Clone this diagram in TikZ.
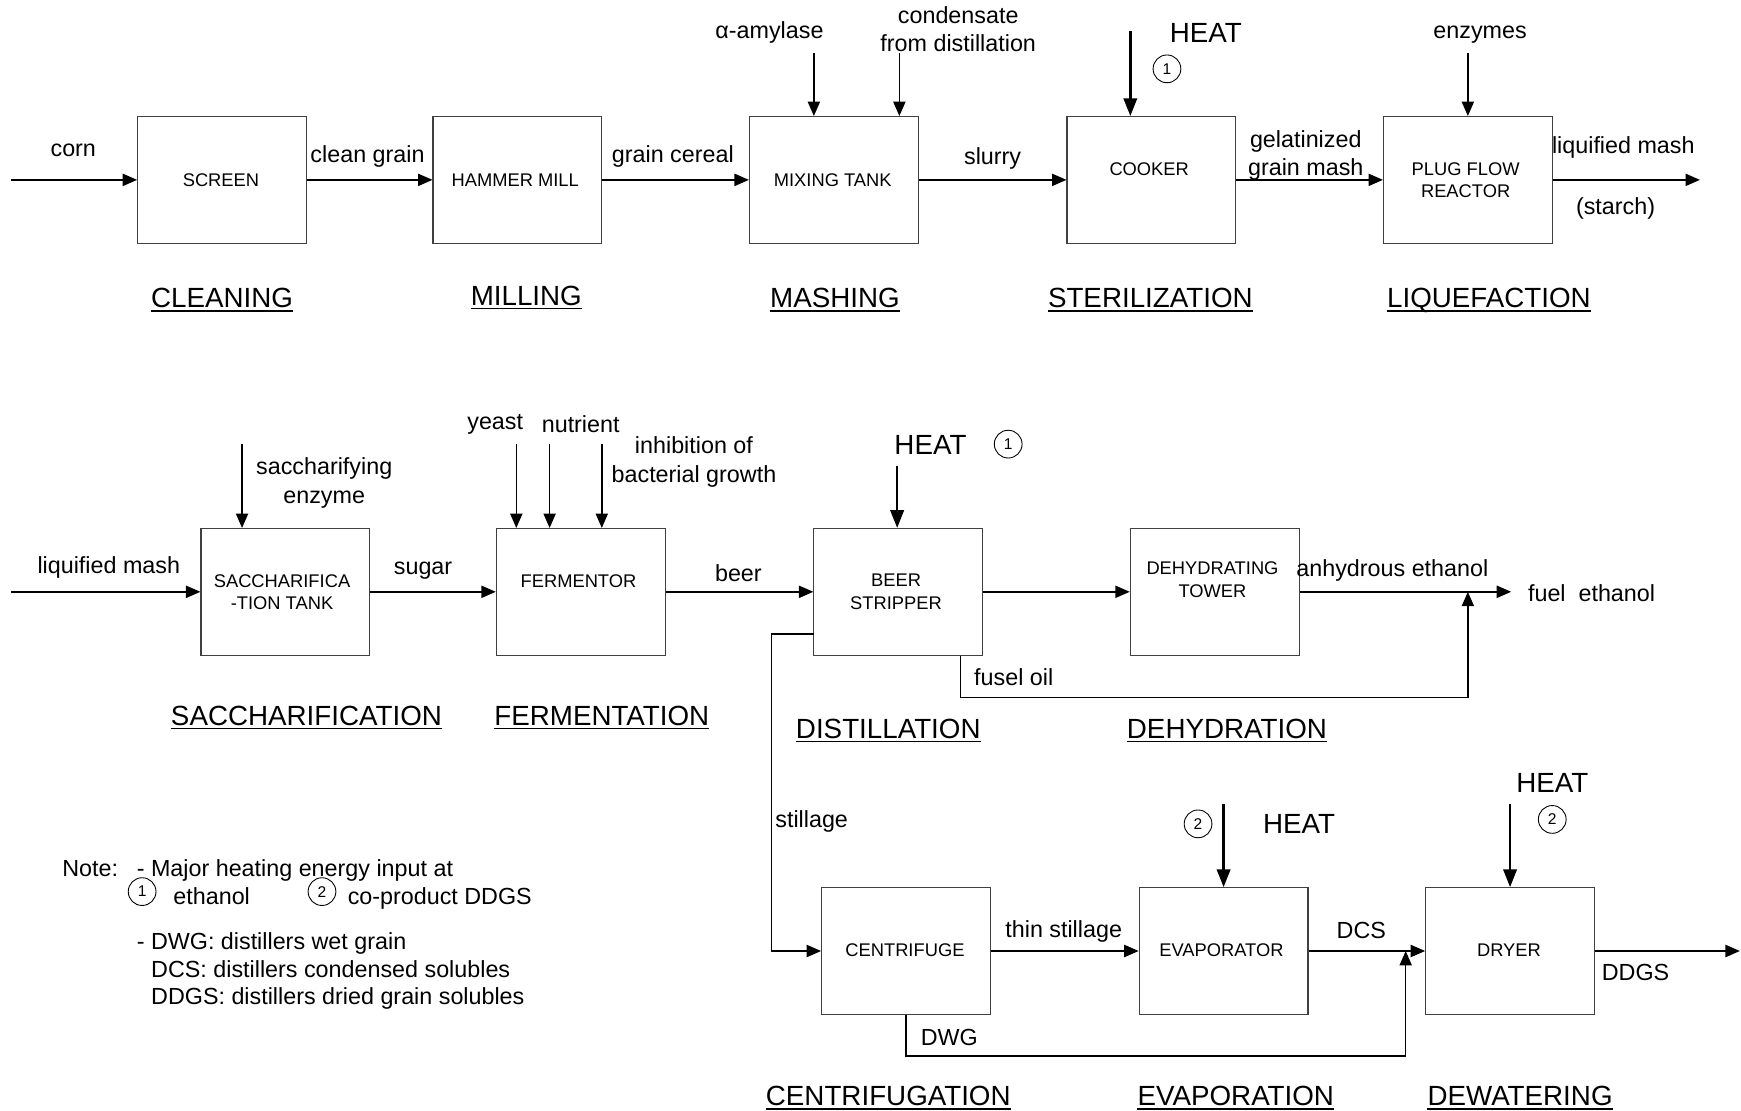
\documentclass[tikz,border=0pt]{standalone}
\usepackage{fontspec}
\setmainfont{Liberation Sans}
\usetikzlibrary{arrows.meta}
\begin{document}
\begin{tikzpicture}[x=1pt,y=-1pt,
  box/.style={draw=black!75, line width=1pt, minimum width=152pt, minimum height=114pt, inner sep=0pt},
  btxt/.style={font=\fontsize{16.5}{20}\selectfont, align=center, inner sep=0pt},
  lbl/.style={font=\fontsize{21}{25.5}\selectfont, align=center, inner sep=0pt},
  stage/.style={font=\fontsize{25}{30}\selectfont, inner sep=0pt, anchor=base},
  uln/.style={line width=1.4pt},
  heat/.style={font=\fontsize{25}{30}\selectfont, inner sep=0pt},
  num/.style={circle, draw, line width=0.8pt, minimum size=25pt, inner sep=0pt, font=\fontsize{14}{16}\selectfont},
  arr/.style={line width=1.3pt, -{Triangle[length=13pt,width=11pt]}},
  harr/.style={line width=2.4pt, -{Triangle[length=16pt,width=12pt]}},
  ln/.style={line width=1.3pt}]
\useasboundingbox (0,0) rectangle (1568,1000);

% ---------- row 1 boxes ----------
\node[box] (screen) at (200,162) {};
\node[box] (hammer) at (466,162) {};
\node[box] (mixing) at (751,162) {};
\node[box] (cooker) at (1037,162) {};
\node[box] (pfr) at (1322,162) {};
\node[btxt] (tscreen) at (199,162) {SCREEN};
\node[btxt] (thammer) at (464,162) {HAMMER MILL};
\node[btxt] (tmixing) at (750,162) {MIXING TANK};
\node[btxt] (tcooker) at (1035,152) {COOKER};
\node[btxt] (tpfr) at (1320,162) {PLUG FLOW\\REACTOR};

% row 1 flows
\coordinate (cornin) at (10,162);
\draw[arr] (cornin) -- (screen.west);
\node[lbl] (lcorn) at (66,135) {corn};
\draw[arr] (screen.east) -- (hammer.west);
\node[lbl] (lclean) at (331,141) {clean grain};
\draw[arr] (hammer.east) -- (mixing.west);
\node[lbl] (lcereal) at (606,141) {grain cereal};
\draw[arr] (mixing.east) -- (cooker.west);
\node[lbl] (lslurry) at (894,143) {slurry};
\draw[arr] (cooker.east) -- (pfr.west);
\node[lbl] (lgel) at (1176,140) {gelatinized\\grain mash};
\coordinate (pfrout) at (1531,162);
\draw[arr] (pfr.east) -- (pfrout);
\node[lbl] (lliq) at (1462,133) {liquified mash};
\node[lbl] (lstarch) at (1455,188) {(starch)};

\coordinate (amy) at (733,48);
\draw[arr] (amy) -- (amy |- mixing.north);
\node[lbl] (lamy) at (693,29) {α-amylase};
\coordinate (cond) at (810,48);
\draw[arr] (cond) -- (cond |- mixing.north);
\node[lbl] (lcond) at (863,26) {condensate\\from distillation};
\coordinate (heat1) at (1018,28);
\draw[harr] (heat1) -- (heat1 |- cooker.north);
\node[heat] (theat1) at (1086,30) {HEAT};
\node[num] (n1a) at (1051,62) {1};
\coordinate (enz) at (1322,48);
\draw[arr] (enz) -- (pfr.north);
\node[lbl] (lenz) at (1333,31) {enzymes};

\node[stage] (s1) at (200,277) {CLEANING};
\node[stage] (s2) at (474,275) {MILLING};
\node[stage] (s3) at (752,277) {MASHING};
\node[stage] (s4) at (1036,277) {STERILIZATION};
\node[stage] (s5) at (1341,277) {LIQUEFACTION};

% ---------- row 2 boxes ----------
\node[box] (sacch) at (257,533) {};
\node[box] (ferm) at (523,533) {};
\node[box] (beer) at (809,533) {};
\node[box] (dehyd) at (1094,533) {};
\node[btxt] (tsacch) at (254,533) {SACCHARIFICA\\-TION TANK};
\node[btxt] (tferm) at (521,523) {FERMENTOR};
\node[btxt] (tbeer) at (807,533) {BEER\\STRIPPER};
\node[btxt] (tdehyd) at (1092,522) {DEHYDRATING\\TOWER};

\coordinate (liqin) at (10,533);
\draw[arr] (liqin) -- (sacch.west);
\node[lbl] (lliq2) at (98,511) {liquified mash};
\draw[arr] (sacch.east) -- (ferm.west);
\node[lbl] (lsugar) at (381,514) {sugar};
\draw[arr] (ferm.east) -- (beer.west);
\node[lbl] (lbeer) at (665,516) {beer};
\draw[arr] (beer.east) -- (dehyd.west);
\coordinate (ethout) at (1361,533);
\draw[arr] (dehyd.east) -- (ethout);
\node[lbl] (lanh) at (1254,514) {anhydrous ethanol};
\node[lbl, anchor=west] (lfuel) at (1376,534) {fuel\ \ ethanol};

\coordinate (senz) at (218,400);
\draw[arr] (senz) -- (senz |- sacch.north);
\node[lbl] (lsenz) at (292,435) {saccharifying\\enzyme};
\coordinate (yeast) at (465,400);
\draw[arr] (yeast) -- (yeast |- ferm.north);
\coordinate (nutr) at (495,400);
\draw[arr] (nutr) -- (nutr |- ferm.north);
\coordinate (inhib) at (542,400);
\draw[arr] (inhib) -- (inhib |- ferm.north);
\node[lbl] (lyeast) at (446,382) {yeast};
\node[lbl] (lnutr) at (523,382) {nutrient};
\node[lbl] (linhib) at (625,416) {inhibition of\\bacterial growth};
\coordinate (heat2) at (808,420);
\draw[harr] (heat2) -- (heat2 |- beer.north);
\node[heat] (theat2) at (838,401) {HEAT};
\node[num] (n1b) at (908,400) {1};

% fusel oil
\coordinate (fo1) at (865,628);
\coordinate (fo2) at (1322,628);
\draw[arr] (fo1 |- beer.south) -- (fo1) -- (fo2) -- (fo2 |- ethout);
\node[lbl] (lfusel) at (913,610) {fusel oil};

\node[stage] (s6) at (276,653) {SACCHARIFICATION};
\node[stage] (s7) at (542,653) {FERMENTATION};
\node[stage] (s8) at (800,665) {DISTILLATION};
\node[stage] (s9) at (1105,665) {DEHYDRATION};

% ---------- row 3 boxes ----------
\node[box] (centr) at (816,856.5) {};
\node[box] (evap) at (1102,856.5) {};
\node[box] (dryer) at (1360,856.5) {};
\node[btxt] (tcentr) at (815,856) {CENTRIFUGE};
\node[btxt] (tevap) at (1100,856) {EVAPORATOR};
\node[btxt] (tdryer) at (1359,856) {DRYER};

% stillage
\coordinate (st0) at (733,571);
\coordinate (st1) at (695,571);
\coordinate (st2) at (695,856.5);
\draw[arr] (st0) -- (st1) -- (st2) -- (centr.west);
\node[lbl] (lstill) at (731,740) {stillage};

\draw[arr] (centr.east) -- (evap.west);
\node[lbl] (lthin) at (958,839) {thin stillage};
\draw[arr] (evap.east) -- (dryer.west);
\node[lbl] (ldcs) at (1226,838) {DCS};
\coordinate (ddgsout) at (1567,856.5);
\draw[arr] (dryer.east) -- (ddgsout);
\node[lbl] (lddgs) at (1473,876) {DDGS};

% DWG
\coordinate (dw1) at (816,951);
\coordinate (dw2) at (1266,951);
\draw[arr] (centr.south) -- (dw1) -- (dw2) -- (dw2 |- dryer.west);
\node[lbl] (ldwg) at (855,934) {DWG};

\coordinate (heat3) at (1102,724);
\draw[harr] (heat3) -- (evap.north);
\node[num] (n2a) at (1079,742) {2};
\node[heat] (theat3) at (1170,742) {HEAT};
\coordinate (heat4) at (1360,724);
\draw[harr] (heat4) -- (dryer.north);
\node[heat] (theat4) at (1398,705) {HEAT};
\node[num] (n2b) at (1398,738) {2};

\node[stage] (s10) at (800,996) {CENTRIFUGATION};
\node[stage] (s11) at (1113,996) {EVAPORATION};
\node[stage] (s12) at (1369,996) {DEWATERING};

\foreach \s in {s1,s2,s3,s4,s5,s6,s7,s8,s9,s10,s11,s12}
  \draw[uln] ([yshift=-3pt]\s.base west) -- ([yshift=-3pt]\s.base east);

% ---------- note ----------
\node[lbl, anchor=base west] (note) at (56,789) {Note:};
\node[lbl, anchor=base west] (note1) at (123,789) {- Major heating energy input at};
\node[num] (n1c) at (128,803) {1};
\node[lbl, anchor=base west] (note2) at (156,815) {ethanol};
\node[num] (n2c) at (290,803) {2};
\node[lbl, anchor=base west] (note3) at (313,815) {co-product DDGS};
\node[lbl, anchor=base west] (note4) at (123,855) {- DWG: distillers wet grain};
\node[lbl, anchor=base west] (note5) at (136,880) {DCS: distillers condensed solubles};
\node[lbl, anchor=base west] (note6) at (136,905) {DDGS: distillers dried grain solubles};
\end{tikzpicture}
\end{document}
